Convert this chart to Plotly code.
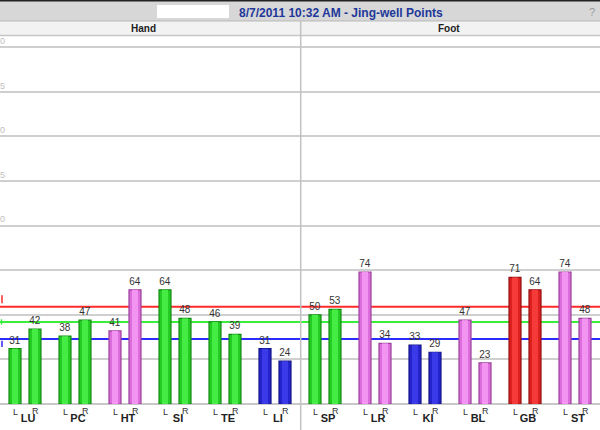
import plotly.graph_objects as go

# ---------------- data ----------------
title_text = "8/7/2011 10:32 AM - Jing-well Points"
sections = ["Hand", "Foot"]
groups = ["LU", "PC", "HT", "SI", "TE", "LI", "SP", "LR", "KI", "BL", "GB", "ST"]
left_values = [31, 38, 41, 64, 46, 31, 50, 74, 33, 47, 71, 74]
right_values = [42, 47, 64, 48, 39, 24, 53, 34, 29, 23, 64, 48]
group_status = ["normal", "normal", "imbalance", "normal", "normal", "low",
                "normal", "imbalance", "low", "imbalance", "high", "imbalance"]
side_labels = ["L", "R"]
high_line = 54.5
mean_line = 46
low_line = 36.5
y_ticks = [0, 25, 50, 75, 100, 125, 150, 175, 200]

# ---------------- style ----------------
W, H = 600, 430
M_T, M_B = 36, 26
PLOT_H = H - M_T - M_B
Y_MAX = 206.3
FONT = "Arial, Liberation Sans, sans-serif"

edge = {"normal": "#148a14", "imbalance": "#9c409c", "low": "#15158a", "high": "#961212"}
mid = {"normal": "#26cc26", "imbalance": "#dc6edc", "low": "#2424cc", "high": "#dc2020"}
light = {"normal": "#44ec44", "imbalance": "#f394f3", "low": "#3a3ae8", "high": "#f53a3a"}


def py(px):
    """pixel row (from top of page) -> paper y"""
    return (H - M_B - px) / PLOT_H


def pxx(px):
    return px / W


OFF = 0.2
x_pos, y_val, status = [], [], []
for i, g in enumerate(groups):
    for side, vals in ((-1, left_values), (1, right_values)):
        x_pos.append(i + side * OFF)
        y_val.append(vals[i])
        status.append(group_status[i])

fig = go.Figure()
fig.add_trace(go.Bar(
    x=x_pos, y=y_val, width=0.24,
    marker=dict(color=[mid[s] for s in status],
                line=dict(color=[edge[s] for s in status], width=1.2)),
    text=[str(v) for v in y_val], textposition="outside",
    textfont=dict(size=10, color="#333333", family=FONT),
    constraintext="none", cliponaxis=False, hoverinfo="x+y",
    showlegend=False,
))
# lighter inner band (shading of the bar body)
fig.add_trace(go.Bar(
    x=x_pos, y=y_val, width=0.12, base=0,
    marker=dict(color=[light[s] for s in status], line=dict(width=0)),
    hoverinfo="skip", showlegend=False,
))

shapes = []
# title bar
shapes.append(dict(type="rect", xref="paper", yref="paper", x0=0, x1=1,
                   y0=py(21), y1=py(0), fillcolor="#d7d7d7", line_width=0, layer="below"))
shapes.append(dict(type="line", xref="paper", yref="paper", x0=0, x1=1,
                   y0=py(0.5), y1=py(0.5), line=dict(color="#222222", width=2)))
shapes.append(dict(type="line", xref="paper", yref="paper", x0=0, x1=1,
                   y0=py(21), y1=py(21), line=dict(color="#b5b5b5", width=1)))
shapes.append(dict(type="rect", xref="paper", yref="paper", x0=pxx(157), x1=pxx(229),
                   y0=py(18), y1=py(5), fillcolor="#ffffff", line_width=0))
# header row
shapes.append(dict(type="rect", xref="paper", yref="paper", x0=0, x1=1,
                   y0=py(35), y1=py(21.5), fillcolor="#f2f2f2", line_width=0, layer="below"))
shapes.append(dict(type="line", xref="paper", yref="paper", x0=0, x1=1,
                   y0=py(35.5), y1=py(35.5), line=dict(color="#c6c6c6", width=1.5)))
# divider
shapes.append(dict(type="line", xref="paper", yref="paper", x0=pxx(300.7), x1=pxx(300.7),
                   y0=py(430), y1=py(21), line=dict(color="#c2c2c2", width=1.5)))
# reference lines
for val, col in ((high_line, "#ff2a2a"), (mean_line, "#3cec3c"), (low_line, "#2b2bff")):
    shapes.append(dict(type="line", xref="paper", yref="y", x0=0, x1=1, y0=val, y1=val,
                       line=dict(color=col, width=2), layer="below"))
# small markers at the left end of the reference lines
shapes.append(dict(type="line", xref="paper", yref="y", x0=pxx(2), x1=pxx(2),
                   y0=high_line + 2, y1=high_line + 6.5, line=dict(color="#ff2a2a", width=1.5)))
shapes.append(dict(type="line", xref="paper", yref="y", x0=pxx(1.5), x1=pxx(1.5),
                   y0=mean_line - 1.5, y1=mean_line + 1.5, line=dict(color="#3cec3c", width=1.5)))
shapes.append(dict(type="line", xref="paper", yref="y", x0=pxx(2), x1=pxx(2),
                   y0=low_line - 1, y1=low_line - 4.5, line=dict(color="#2b2bff", width=1.5)))

annotations = []
annotations.append(dict(text="<b>" + title_text + "</b>", x=pxx(341), y=py(12.5), xref="paper",
                        yref="paper", showarrow=False, xanchor="center", yanchor="middle",
                        font=dict(size=12, color="#21379a", family=FONT)))
annotations.append(dict(text="?", x=pxx(592), y=py(12), xref="paper", yref="paper",
                        showarrow=False, xanchor="center", yanchor="middle",
                        font=dict(size=11, color="#9a9a9a", family=FONT)))
for name, cx in zip(sections, (143, 449)):
    annotations.append(dict(text="<b>" + name + "</b>", x=pxx(cx), y=py(29), xref="paper",
                            yref="paper", showarrow=False, xanchor="center", yanchor="middle",
                            font=dict(size=10, color="#222222", family=FONT)))
for xv, k in zip(x_pos, range(len(x_pos))):
    annotations.append(dict(text=side_labels[k % 2], x=xv, y=0, xref="x", yref="paper",
                            showarrow=False, xanchor="center", yanchor="top",
                            yshift=-1 if k % 2 == 0 else 0,
                            font=dict(size=9, color="#333333", family=FONT)))

fig.update_layout(
    width=W, height=H, template="none",
    margin=dict(l=0, r=0, t=M_T, b=M_B, pad=0),
    paper_bgcolor="#ffffff", plot_bgcolor="#ffffff",
    barmode="overlay", showlegend=False,
    font=dict(family=FONT),
    shapes=shapes, annotations=annotations,
    xaxis=dict(range=[-0.5, len(groups) - 0.5], tickvals=list(range(len(groups))),
               ticktext=groups, showgrid=False, zeroline=False, showline=False,
               ticks="", ticklabelshift=3, ticklabelstandoff=6, automargin=False,
               tickfont=dict(size=11, color="#222222", family=FONT, weight="bold")),
    yaxis=dict(range=[0, Y_MAX], tickvals=y_ticks, ticktext=[str(v) for v in y_ticks],
               ticklabelposition="inside top", ticklabelstandoff=-13, ticks="",
               tickfont=dict(size=9, color="#c0c0c0", family=FONT),
               showgrid=True, gridcolor="#cfcfcf", gridwidth=1.5,
               zeroline=True, zerolinecolor="#c8c8c8", zerolinewidth=1.5,
               showline=False, automargin=False),
)

fig.write_html("out.html", config={"displayModeBar": False},
               post_script="document.body.style.margin='0';document.body.style.padding='0';"
                           "document.body.style.overflow='hidden';")
